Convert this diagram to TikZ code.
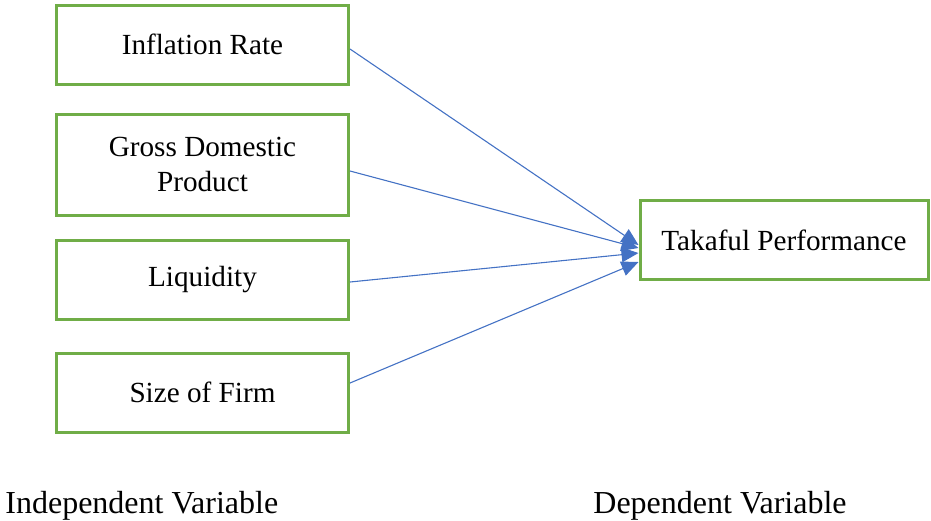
\documentclass[tikz,border=0pt]{standalone}
\usepackage{fontspec}
\setmainfont{Liberation Serif}
\usetikzlibrary{arrows.meta}
\definecolor{boxgreen}{HTML}{70AD47}
\definecolor{linkblue}{HTML}{4472C4}

\begin{document}
\begin{tikzpicture}[x=0.5pt, y=-0.5pt, align=center,
  font=\fontsize{14.6}{17.5}\selectfont,
  var/.style={rectangle, draw=boxgreen, line width=1.5pt, minimum width=146pt, minimum height=39.5pt},
  link/.style={draw=linkblue, line width=0.55pt, -{Triangle[length=8.5pt, width=7.5pt]}}]
\useasboundingbox (0,0) rectangle (931,520);

\path (202.5, 44.5) node[var] (infl) {Inflation Rate}
      (202.5, 164.5) node[var, minimum height=50.5pt] (gdp) {Gross Domestic\\Product}
      (202.5, 279.5) node[var] (liq) {Liquidity}
      (202.5, 392.5) node[var] (size) {Size of Firm}
      (784, 240) node[var, minimum width=144pt] (perf) {Takaful Performance};

\path (5, 513) node[anchor=base west, inner sep=0pt, font=\fontsize{16}{19}\selectfont] (indep) {Independent Variable}
      (593, 513) node[anchor=base west, inner sep=0pt, font=\fontsize{16}{19}\selectfont] (dep) {Dependent Variable};

\draw[link] ([yshift=-2.25pt]infl.east) to ([yshift=-2.5pt]perf.west);
\draw[link] ([yshift=-3.25pt]gdp.east) to ([yshift=-4pt]perf.west);
\draw[link] ([yshift=-1.25pt]liq.east) to ([yshift=-6.5pt]perf.west);
\draw[link] ([yshift=4.75pt]size.east) to ([yshift=-11pt]perf.west);
\end{tikzpicture}
\end{document}
